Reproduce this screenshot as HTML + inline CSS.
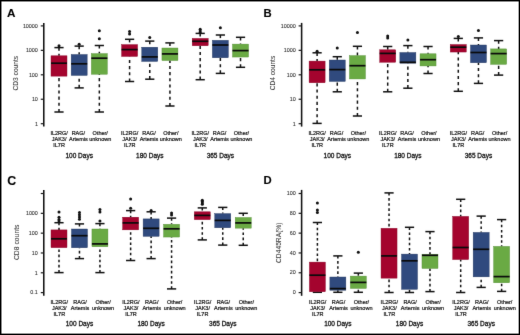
<!DOCTYPE html>
<html><head><meta charset="utf-8"><style>
html,body{margin:0;padding:0;background:#fff;}
body{width:520px;height:335px;overflow:hidden;}
svg{display:block;font-family:"Liberation Sans", sans-serif;filter:blur(0.35px);}
</style></head><body>
<svg width="520" height="335" viewBox="0 0 520 335">
<defs><filter id="soft" x="0" y="0" width="100%" height="100%" filterUnits="userSpaceOnUse" color-interpolation-filters="sRGB"><feConvolveMatrix order="3" kernelMatrix="0.0052 0.0619 0.0052 0.0619 0.7314 0.0619 0.0052 0.0619 0.0052" edgeMode="duplicate" preserveAlpha="true"/></filter></defs>
<g filter="url(#soft)">
<rect x="0" y="0" width="520" height="335" fill="#fff"/>
<text x="7.10" y="16.95" font-size="11.7" text-anchor="start" font-weight="bold" fill="#000" stroke="#000" stroke-width="0.1">A</text>
<line x1="43.78" y1="22.9" x2="43.78" y2="126.6" stroke="#111" stroke-width="1.55"/>
<line x1="40.78" y1="123.7" x2="43.78" y2="123.7" stroke="#1a1a1a" stroke-width="1.2"/>
<text x="37.88" y="125.64" font-size="5.4" text-anchor="end" font-weight="normal" fill="#262626" stroke="#262626" stroke-width="0.06" transform="translate(0 0.000) scale(1 1.0)">1</text>
<line x1="40.78" y1="99.25" x2="43.78" y2="99.25" stroke="#1a1a1a" stroke-width="1.2"/>
<text x="37.88" y="101.19" font-size="5.4" text-anchor="end" font-weight="normal" fill="#262626" stroke="#262626" stroke-width="0.06" transform="translate(0 0.000) scale(1 1.0)">10</text>
<line x1="40.78" y1="74.8" x2="43.78" y2="74.8" stroke="#1a1a1a" stroke-width="1.2"/>
<text x="37.88" y="76.74" font-size="5.4" text-anchor="end" font-weight="normal" fill="#262626" stroke="#262626" stroke-width="0.06" transform="translate(0 0.000) scale(1 1.0)">100</text>
<line x1="40.78" y1="50.35" x2="43.78" y2="50.35" stroke="#1a1a1a" stroke-width="1.2"/>
<text x="37.88" y="52.29" font-size="5.4" text-anchor="end" font-weight="normal" fill="#262626" stroke="#262626" stroke-width="0.06" transform="translate(0 0.000) scale(1 1.0)">1000</text>
<line x1="40.78" y1="25.9" x2="43.78" y2="25.9" stroke="#1a1a1a" stroke-width="1.2"/>
<text x="37.88" y="27.84" font-size="5.4" text-anchor="end" font-weight="normal" fill="#262626" stroke="#262626" stroke-width="0.06" transform="translate(0 0.000) scale(1 1.0)">10000</text>
<text x="17.90" y="73.20" font-size="6.6" text-anchor="middle" font-weight="normal" fill="#333" stroke="#333" stroke-width="0.05" transform="rotate(-90 17.9 73.2)">CD3 counts</text>
<line x1="59.00" y1="47.6" x2="59.00" y2="55.8" stroke="#111" stroke-width="1.5" stroke-dasharray="3.1 3.06"/>
<line x1="59.00" y1="112.0" x2="59.00" y2="76.15" stroke="#111" stroke-width="1.5" stroke-dasharray="3.1 3.06"/>
<line x1="54.40" y1="47.6" x2="63.60" y2="47.6" stroke="#111" stroke-width="1.5"/>
<line x1="54.40" y1="112.0" x2="63.60" y2="112.0" stroke="#111" stroke-width="1.5"/>
<rect x="51.00" y="55.8" width="16.0" height="20.35" fill="#a4042e" stroke="#860224" stroke-width="0.4"/>
<line x1="51.00" y1="63.199999999999996" x2="67.00" y2="63.199999999999996" stroke="#0a0a0a" stroke-width="1.7"/>
<circle cx="59.00" cy="45.7" r="1.5" fill="#111"/>
<line x1="79.17" y1="46.1" x2="79.17" y2="54.5" stroke="#111" stroke-width="1.5" stroke-dasharray="3.1 3.06"/>
<line x1="79.17" y1="87.9" x2="79.17" y2="75.45" stroke="#111" stroke-width="1.5" stroke-dasharray="3.1 3.06"/>
<line x1="74.57" y1="46.1" x2="83.77" y2="46.1" stroke="#111" stroke-width="1.5"/>
<line x1="74.57" y1="87.9" x2="83.77" y2="87.9" stroke="#111" stroke-width="1.5"/>
<rect x="71.17" y="54.5" width="16.0" height="20.95" fill="#304a7e" stroke="#24385f" stroke-width="0.4"/>
<line x1="71.17" y1="63.8" x2="87.17" y2="63.8" stroke="#0a0a0a" stroke-width="1.7"/>
<circle cx="79.17" cy="44.3" r="1.5" fill="#111"/>
<line x1="99.34" y1="45.5" x2="99.34" y2="53.599999999999994" stroke="#111" stroke-width="1.5" stroke-dasharray="3.1 3.06"/>
<line x1="99.34" y1="112.0" x2="99.34" y2="74.25" stroke="#111" stroke-width="1.5" stroke-dasharray="3.1 3.06"/>
<line x1="94.74" y1="45.5" x2="103.94" y2="45.5" stroke="#111" stroke-width="1.5"/>
<line x1="94.74" y1="112.0" x2="103.94" y2="112.0" stroke="#111" stroke-width="1.5"/>
<rect x="91.34" y="53.599999999999994" width="16.0" height="20.65" fill="#6aaa44" stroke="#4f8a30" stroke-width="0.4"/>
<line x1="91.34" y1="58.199999999999996" x2="107.34" y2="58.199999999999996" stroke="#0a0a0a" stroke-width="1.7"/>
<circle cx="99.34" cy="38.7" r="1.5" fill="#111"/>
<circle cx="99.34" cy="30.7" r="1.5" fill="#111"/>
<line x1="129.59" y1="39.3" x2="129.59" y2="44.599999999999994" stroke="#111" stroke-width="1.5" stroke-dasharray="3.1 3.06"/>
<line x1="129.59" y1="81.5" x2="129.59" y2="56.449999999999996" stroke="#111" stroke-width="1.5" stroke-dasharray="3.1 3.06"/>
<line x1="125.00" y1="39.3" x2="134.19" y2="39.3" stroke="#111" stroke-width="1.5"/>
<line x1="125.00" y1="81.5" x2="134.19" y2="81.5" stroke="#111" stroke-width="1.5"/>
<rect x="121.59" y="44.599999999999994" width="16.0" height="11.85" fill="#a4042e" stroke="#860224" stroke-width="0.4"/>
<line x1="121.59" y1="49.599999999999994" x2="137.59" y2="49.599999999999994" stroke="#0a0a0a" stroke-width="1.7"/>
<circle cx="129.59" cy="34.0" r="1.5" fill="#111"/>
<circle cx="129.59" cy="31.6" r="1.5" fill="#111"/>
<line x1="149.77" y1="41.1" x2="149.77" y2="47.199999999999996" stroke="#111" stroke-width="1.5" stroke-dasharray="3.1 3.06"/>
<line x1="149.77" y1="79.2" x2="149.77" y2="61.449999999999996" stroke="#111" stroke-width="1.5" stroke-dasharray="3.1 3.06"/>
<line x1="145.17" y1="41.1" x2="154.37" y2="41.1" stroke="#111" stroke-width="1.5"/>
<line x1="145.17" y1="79.2" x2="154.37" y2="79.2" stroke="#111" stroke-width="1.5"/>
<rect x="141.77" y="47.199999999999996" width="16.0" height="14.25" fill="#304a7e" stroke="#24385f" stroke-width="0.4"/>
<line x1="141.77" y1="56.9" x2="157.77" y2="56.9" stroke="#0a0a0a" stroke-width="1.7"/>
<circle cx="149.77" cy="37.5" r="1.5" fill="#111"/>
<line x1="169.94" y1="42.9" x2="169.94" y2="48.0" stroke="#111" stroke-width="1.5" stroke-dasharray="3.1 3.06"/>
<line x1="169.94" y1="106.0" x2="169.94" y2="60.55" stroke="#111" stroke-width="1.5" stroke-dasharray="3.1 3.06"/>
<line x1="165.34" y1="42.9" x2="174.53" y2="42.9" stroke="#111" stroke-width="1.5"/>
<line x1="165.34" y1="106.0" x2="174.53" y2="106.0" stroke="#111" stroke-width="1.5"/>
<rect x="161.94" y="48.0" width="16.0" height="12.55" fill="#6aaa44" stroke="#4f8a30" stroke-width="0.4"/>
<line x1="161.94" y1="53.9" x2="177.94" y2="53.9" stroke="#0a0a0a" stroke-width="1.7"/>
<line x1="200.19" y1="33.4" x2="200.19" y2="38.4" stroke="#111" stroke-width="1.5" stroke-dasharray="3.1 3.06"/>
<line x1="200.19" y1="79.7" x2="200.19" y2="45.75" stroke="#111" stroke-width="1.5" stroke-dasharray="3.1 3.06"/>
<line x1="195.59" y1="33.4" x2="204.79" y2="33.4" stroke="#111" stroke-width="1.5"/>
<line x1="195.59" y1="79.7" x2="204.79" y2="79.7" stroke="#111" stroke-width="1.5"/>
<rect x="192.19" y="38.4" width="16.0" height="7.35" fill="#a4042e" stroke="#860224" stroke-width="0.4"/>
<line x1="192.19" y1="41.3" x2="208.19" y2="41.3" stroke="#0a0a0a" stroke-width="1.7"/>
<circle cx="200.19" cy="29.3" r="1.5" fill="#111"/>
<circle cx="200.19" cy="31.0" r="1.5" fill="#111"/>
<circle cx="200.19" cy="32.6" r="1.5" fill="#111"/>
<line x1="220.36" y1="35.0" x2="220.36" y2="40.3" stroke="#111" stroke-width="1.5" stroke-dasharray="3.1 3.06"/>
<line x1="220.36" y1="73.4" x2="220.36" y2="57.75" stroke="#111" stroke-width="1.5" stroke-dasharray="3.1 3.06"/>
<line x1="215.76" y1="35.0" x2="224.96" y2="35.0" stroke="#111" stroke-width="1.5"/>
<line x1="215.76" y1="73.4" x2="224.96" y2="73.4" stroke="#111" stroke-width="1.5"/>
<rect x="212.36" y="40.3" width="16.0" height="17.45" fill="#304a7e" stroke="#24385f" stroke-width="0.4"/>
<line x1="212.36" y1="45.0" x2="228.36" y2="45.0" stroke="#0a0a0a" stroke-width="1.7"/>
<circle cx="220.36" cy="27.8" r="1.5" fill="#111"/>
<line x1="240.53" y1="37.3" x2="240.53" y2="44.099999999999994" stroke="#111" stroke-width="1.5" stroke-dasharray="3.1 3.06"/>
<line x1="240.53" y1="67.3" x2="240.53" y2="57.05" stroke="#111" stroke-width="1.5" stroke-dasharray="3.1 3.06"/>
<line x1="235.93" y1="37.3" x2="245.13" y2="37.3" stroke="#111" stroke-width="1.5"/>
<line x1="235.93" y1="67.3" x2="245.13" y2="67.3" stroke="#111" stroke-width="1.5"/>
<rect x="232.53" y="44.099999999999994" width="16.0" height="12.95" fill="#6aaa44" stroke="#4f8a30" stroke-width="0.4"/>
<line x1="232.53" y1="50.599999999999994" x2="248.53" y2="50.599999999999994" stroke="#0a0a0a" stroke-width="1.7"/>
<text x="59.10" y="134.58" font-size="5.5" text-anchor="middle" font-weight="normal" fill="#111" stroke="#111" stroke-width="0.2">IL2RG/</text>
<text x="59.10" y="141.08" font-size="5.5" text-anchor="middle" font-weight="normal" fill="#111" stroke="#111" stroke-width="0.2">JAK3/</text>
<text x="59.10" y="147.48" font-size="5.5" text-anchor="middle" font-weight="normal" fill="#111" stroke="#111" stroke-width="0.2">IL7R</text>
<text x="78.37" y="134.58" font-size="5.5" text-anchor="middle" font-weight="normal" fill="#111" stroke="#111" stroke-width="0.2">RAG/</text>
<text x="78.37" y="141.08" font-size="5.5" text-anchor="middle" font-weight="normal" fill="#111" stroke="#111" stroke-width="0.2">Artemis</text>
<text x="100.24" y="134.58" font-size="5.5" text-anchor="middle" font-weight="normal" fill="#111" stroke="#111" stroke-width="0.2">Other/</text>
<text x="100.24" y="141.08" font-size="5.5" text-anchor="middle" font-weight="normal" fill="#111" stroke="#111" stroke-width="0.2">unknown</text>
<text x="129.69" y="134.58" font-size="5.5" text-anchor="middle" font-weight="normal" fill="#111" stroke="#111" stroke-width="0.2">IL2RG/</text>
<text x="129.69" y="141.08" font-size="5.5" text-anchor="middle" font-weight="normal" fill="#111" stroke="#111" stroke-width="0.2">JAK3/</text>
<text x="129.69" y="147.48" font-size="5.5" text-anchor="middle" font-weight="normal" fill="#111" stroke="#111" stroke-width="0.2">IL7R</text>
<text x="148.97" y="134.58" font-size="5.5" text-anchor="middle" font-weight="normal" fill="#111" stroke="#111" stroke-width="0.2">RAG/</text>
<text x="148.97" y="141.08" font-size="5.5" text-anchor="middle" font-weight="normal" fill="#111" stroke="#111" stroke-width="0.2">Artemis</text>
<text x="170.84" y="134.58" font-size="5.5" text-anchor="middle" font-weight="normal" fill="#111" stroke="#111" stroke-width="0.2">Other/</text>
<text x="170.84" y="141.08" font-size="5.5" text-anchor="middle" font-weight="normal" fill="#111" stroke="#111" stroke-width="0.2">unknown</text>
<text x="200.29" y="134.58" font-size="5.5" text-anchor="middle" font-weight="normal" fill="#111" stroke="#111" stroke-width="0.2">IL2RG/</text>
<text x="200.29" y="141.08" font-size="5.5" text-anchor="middle" font-weight="normal" fill="#111" stroke="#111" stroke-width="0.2">JAK3/</text>
<text x="200.29" y="147.48" font-size="5.5" text-anchor="middle" font-weight="normal" fill="#111" stroke="#111" stroke-width="0.2">IL7R</text>
<text x="219.56" y="134.58" font-size="5.5" text-anchor="middle" font-weight="normal" fill="#111" stroke="#111" stroke-width="0.2">RAG/</text>
<text x="219.56" y="141.08" font-size="5.5" text-anchor="middle" font-weight="normal" fill="#111" stroke="#111" stroke-width="0.2">Artemis</text>
<text x="241.43" y="134.58" font-size="5.5" text-anchor="middle" font-weight="normal" fill="#111" stroke="#111" stroke-width="0.2">Other/</text>
<text x="241.43" y="141.08" font-size="5.5" text-anchor="middle" font-weight="normal" fill="#111" stroke="#111" stroke-width="0.2">unknown</text>
<text x="79.17" y="157.54" font-size="6.5" text-anchor="middle" font-weight="normal" fill="#111" stroke="#111" stroke-width="0.28">100 Days</text>
<text x="149.77" y="157.54" font-size="6.5" text-anchor="middle" font-weight="normal" fill="#111" stroke="#111" stroke-width="0.28">180 Days</text>
<text x="220.36" y="157.54" font-size="6.5" text-anchor="middle" font-weight="normal" fill="#111" stroke="#111" stroke-width="0.28">365 Days</text>
<text x="263.60" y="17.00" font-size="11.3" text-anchor="start" font-weight="bold" fill="#000" stroke="#000" stroke-width="0.1">B</text>
<line x1="301.62" y1="22.9" x2="301.62" y2="126.6" stroke="#111" stroke-width="1.55"/>
<line x1="298.62" y1="123.7" x2="301.62" y2="123.7" stroke="#1a1a1a" stroke-width="1.2"/>
<text x="295.72" y="125.64" font-size="5.4" text-anchor="end" font-weight="normal" fill="#262626" stroke="#262626" stroke-width="0.06" transform="translate(0 0.000) scale(1 1.0)">1</text>
<line x1="298.62" y1="99.25" x2="301.62" y2="99.25" stroke="#1a1a1a" stroke-width="1.2"/>
<text x="295.72" y="101.19" font-size="5.4" text-anchor="end" font-weight="normal" fill="#262626" stroke="#262626" stroke-width="0.06" transform="translate(0 0.000) scale(1 1.0)">10</text>
<line x1="298.62" y1="74.8" x2="301.62" y2="74.8" stroke="#1a1a1a" stroke-width="1.2"/>
<text x="295.72" y="76.74" font-size="5.4" text-anchor="end" font-weight="normal" fill="#262626" stroke="#262626" stroke-width="0.06" transform="translate(0 0.000) scale(1 1.0)">100</text>
<line x1="298.62" y1="50.35" x2="301.62" y2="50.35" stroke="#1a1a1a" stroke-width="1.2"/>
<text x="295.72" y="52.29" font-size="5.4" text-anchor="end" font-weight="normal" fill="#262626" stroke="#262626" stroke-width="0.06" transform="translate(0 0.000) scale(1 1.0)">1000</text>
<line x1="298.62" y1="25.9" x2="301.62" y2="25.9" stroke="#1a1a1a" stroke-width="1.2"/>
<text x="295.72" y="27.84" font-size="5.4" text-anchor="end" font-weight="normal" fill="#262626" stroke="#262626" stroke-width="0.06" transform="translate(0 0.000) scale(1 1.0)">10000</text>
<text x="274.60" y="73.00" font-size="6.6" text-anchor="middle" font-weight="normal" fill="#333" stroke="#333" stroke-width="0.05" transform="rotate(-90 274.6 73.0)">CD4 counts</text>
<line x1="317.10" y1="52.8" x2="317.10" y2="61.099999999999994" stroke="#111" stroke-width="1.5" stroke-dasharray="3.1 3.06"/>
<line x1="317.10" y1="123.4" x2="317.10" y2="82.75" stroke="#111" stroke-width="1.5" stroke-dasharray="3.1 3.06"/>
<line x1="312.50" y1="52.8" x2="321.70" y2="52.8" stroke="#111" stroke-width="1.5"/>
<line x1="312.50" y1="123.4" x2="321.70" y2="123.4" stroke="#111" stroke-width="1.5"/>
<rect x="309.10" y="61.099999999999994" width="16.0" height="21.65" fill="#a4042e" stroke="#860224" stroke-width="0.4"/>
<line x1="309.10" y1="69.8" x2="325.10" y2="69.8" stroke="#0a0a0a" stroke-width="1.7"/>
<circle cx="317.10" cy="51.3" r="1.5" fill="#111"/>
<line x1="337.27" y1="56.7" x2="337.27" y2="60.0" stroke="#111" stroke-width="1.5" stroke-dasharray="3.1 3.06"/>
<line x1="337.27" y1="91.8" x2="337.27" y2="81.45" stroke="#111" stroke-width="1.5" stroke-dasharray="3.1 3.06"/>
<line x1="332.67" y1="56.7" x2="341.87" y2="56.7" stroke="#111" stroke-width="1.5"/>
<line x1="332.67" y1="91.8" x2="341.87" y2="91.8" stroke="#111" stroke-width="1.5"/>
<rect x="329.27" y="60.0" width="16.0" height="21.45" fill="#304a7e" stroke="#24385f" stroke-width="0.4"/>
<line x1="329.27" y1="69.6" x2="345.27" y2="69.6" stroke="#0a0a0a" stroke-width="1.7"/>
<circle cx="337.27" cy="48.1" r="1.5" fill="#111"/>
<line x1="357.44" y1="46.3" x2="357.44" y2="55.599999999999994" stroke="#111" stroke-width="1.5" stroke-dasharray="3.1 3.06"/>
<line x1="357.44" y1="116.0" x2="357.44" y2="78.95" stroke="#111" stroke-width="1.5" stroke-dasharray="3.1 3.06"/>
<line x1="352.84" y1="46.3" x2="362.04" y2="46.3" stroke="#111" stroke-width="1.5"/>
<line x1="352.84" y1="116.0" x2="362.04" y2="116.0" stroke="#111" stroke-width="1.5"/>
<rect x="349.44" y="55.599999999999994" width="16.0" height="23.35" fill="#6aaa44" stroke="#4f8a30" stroke-width="0.4"/>
<line x1="349.44" y1="65.7" x2="365.44" y2="65.7" stroke="#0a0a0a" stroke-width="1.7"/>
<circle cx="357.44" cy="32.6" r="1.5" fill="#111"/>
<line x1="387.70" y1="46.5" x2="387.70" y2="49.8" stroke="#111" stroke-width="1.5" stroke-dasharray="3.1 3.06"/>
<line x1="387.70" y1="91.8" x2="387.70" y2="62.25" stroke="#111" stroke-width="1.5" stroke-dasharray="3.1 3.06"/>
<line x1="383.10" y1="46.5" x2="392.30" y2="46.5" stroke="#111" stroke-width="1.5"/>
<line x1="383.10" y1="91.8" x2="392.30" y2="91.8" stroke="#111" stroke-width="1.5"/>
<rect x="379.70" y="49.8" width="16.0" height="12.45" fill="#a4042e" stroke="#860224" stroke-width="0.4"/>
<line x1="379.70" y1="53.4" x2="395.70" y2="53.4" stroke="#0a0a0a" stroke-width="1.7"/>
<circle cx="387.70" cy="36.1" r="1.5" fill="#111"/>
<circle cx="387.70" cy="37.9" r="1.5" fill="#111"/>
<line x1="407.87" y1="45.6" x2="407.87" y2="52.5" stroke="#111" stroke-width="1.5" stroke-dasharray="3.1 3.06"/>
<line x1="407.87" y1="88.2" x2="407.87" y2="63.15" stroke="#111" stroke-width="1.5" stroke-dasharray="3.1 3.06"/>
<line x1="403.26" y1="45.6" x2="412.47" y2="45.6" stroke="#111" stroke-width="1.5"/>
<line x1="403.26" y1="88.2" x2="412.47" y2="88.2" stroke="#111" stroke-width="1.5"/>
<rect x="399.87" y="52.5" width="16.0" height="10.65" fill="#304a7e" stroke="#24385f" stroke-width="0.4"/>
<line x1="399.87" y1="62.3" x2="415.87" y2="62.3" stroke="#0a0a0a" stroke-width="1.7"/>
<circle cx="407.87" cy="40.0" r="1.5" fill="#111"/>
<line x1="428.04" y1="46.5" x2="428.04" y2="53.8" stroke="#111" stroke-width="1.5" stroke-dasharray="3.1 3.06"/>
<line x1="428.04" y1="73.5" x2="428.04" y2="65.95" stroke="#111" stroke-width="1.5" stroke-dasharray="3.1 3.06"/>
<line x1="423.44" y1="46.5" x2="432.64" y2="46.5" stroke="#111" stroke-width="1.5"/>
<line x1="423.44" y1="73.5" x2="432.64" y2="73.5" stroke="#111" stroke-width="1.5"/>
<rect x="420.04" y="53.8" width="16.0" height="12.15" fill="#6aaa44" stroke="#4f8a30" stroke-width="0.4"/>
<line x1="420.04" y1="59.699999999999996" x2="436.04" y2="59.699999999999996" stroke="#0a0a0a" stroke-width="1.7"/>
<line x1="458.29" y1="38.4" x2="458.29" y2="44.5" stroke="#111" stroke-width="1.5" stroke-dasharray="3.1 3.06"/>
<line x1="458.29" y1="91.3" x2="458.29" y2="52.05" stroke="#111" stroke-width="1.5" stroke-dasharray="3.1 3.06"/>
<line x1="453.69" y1="38.4" x2="462.89" y2="38.4" stroke="#111" stroke-width="1.5"/>
<line x1="453.69" y1="91.3" x2="462.89" y2="91.3" stroke="#111" stroke-width="1.5"/>
<rect x="450.29" y="44.5" width="16.0" height="7.55" fill="#a4042e" stroke="#860224" stroke-width="0.4"/>
<line x1="450.29" y1="47.199999999999996" x2="466.29" y2="47.199999999999996" stroke="#0a0a0a" stroke-width="1.7"/>
<circle cx="458.29" cy="36.6" r="1.5" fill="#111"/>
<line x1="478.46" y1="37.9" x2="478.46" y2="45.0" stroke="#111" stroke-width="1.5" stroke-dasharray="3.1 3.06"/>
<line x1="478.46" y1="83.4" x2="478.46" y2="62.75" stroke="#111" stroke-width="1.5" stroke-dasharray="3.1 3.06"/>
<line x1="473.86" y1="37.9" x2="483.06" y2="37.9" stroke="#111" stroke-width="1.5"/>
<line x1="473.86" y1="83.4" x2="483.06" y2="83.4" stroke="#111" stroke-width="1.5"/>
<rect x="470.46" y="45.0" width="16.0" height="17.75" fill="#304a7e" stroke="#24385f" stroke-width="0.4"/>
<line x1="470.46" y1="52.5" x2="486.46" y2="52.5" stroke="#0a0a0a" stroke-width="1.7"/>
<circle cx="478.46" cy="30.4" r="1.5" fill="#111"/>
<line x1="498.63" y1="40.6" x2="498.63" y2="48.9" stroke="#111" stroke-width="1.5" stroke-dasharray="3.1 3.06"/>
<line x1="498.63" y1="75.1" x2="498.63" y2="64.35000000000001" stroke="#111" stroke-width="1.5" stroke-dasharray="3.1 3.06"/>
<line x1="494.03" y1="40.6" x2="503.23" y2="40.6" stroke="#111" stroke-width="1.5"/>
<line x1="494.03" y1="75.1" x2="503.23" y2="75.1" stroke="#111" stroke-width="1.5"/>
<rect x="490.63" y="48.9" width="16.0" height="15.45" fill="#6aaa44" stroke="#4f8a30" stroke-width="0.4"/>
<line x1="490.63" y1="53.599999999999994" x2="506.63" y2="53.599999999999994" stroke="#0a0a0a" stroke-width="1.7"/>
<text x="317.20" y="134.58" font-size="5.5" text-anchor="middle" font-weight="normal" fill="#111" stroke="#111" stroke-width="0.2">IL2RG/</text>
<text x="317.20" y="141.08" font-size="5.5" text-anchor="middle" font-weight="normal" fill="#111" stroke="#111" stroke-width="0.2">JAK3/</text>
<text x="317.20" y="147.48" font-size="5.5" text-anchor="middle" font-weight="normal" fill="#111" stroke="#111" stroke-width="0.2">IL7R</text>
<text x="336.47" y="134.58" font-size="5.5" text-anchor="middle" font-weight="normal" fill="#111" stroke="#111" stroke-width="0.2">RAG/</text>
<text x="336.47" y="141.08" font-size="5.5" text-anchor="middle" font-weight="normal" fill="#111" stroke="#111" stroke-width="0.2">Artemis</text>
<text x="358.34" y="134.58" font-size="5.5" text-anchor="middle" font-weight="normal" fill="#111" stroke="#111" stroke-width="0.2">Other/</text>
<text x="358.34" y="141.08" font-size="5.5" text-anchor="middle" font-weight="normal" fill="#111" stroke="#111" stroke-width="0.2">unknown</text>
<text x="387.80" y="134.58" font-size="5.5" text-anchor="middle" font-weight="normal" fill="#111" stroke="#111" stroke-width="0.2">IL2RG/</text>
<text x="387.80" y="141.08" font-size="5.5" text-anchor="middle" font-weight="normal" fill="#111" stroke="#111" stroke-width="0.2">JAK3/</text>
<text x="387.80" y="147.48" font-size="5.5" text-anchor="middle" font-weight="normal" fill="#111" stroke="#111" stroke-width="0.2">IL7R</text>
<text x="407.06" y="134.58" font-size="5.5" text-anchor="middle" font-weight="normal" fill="#111" stroke="#111" stroke-width="0.2">RAG/</text>
<text x="407.06" y="141.08" font-size="5.5" text-anchor="middle" font-weight="normal" fill="#111" stroke="#111" stroke-width="0.2">Artemis</text>
<text x="428.94" y="134.58" font-size="5.5" text-anchor="middle" font-weight="normal" fill="#111" stroke="#111" stroke-width="0.2">Other/</text>
<text x="428.94" y="141.08" font-size="5.5" text-anchor="middle" font-weight="normal" fill="#111" stroke="#111" stroke-width="0.2">unknown</text>
<text x="458.39" y="134.58" font-size="5.5" text-anchor="middle" font-weight="normal" fill="#111" stroke="#111" stroke-width="0.2">IL2RG/</text>
<text x="458.39" y="141.08" font-size="5.5" text-anchor="middle" font-weight="normal" fill="#111" stroke="#111" stroke-width="0.2">JAK3/</text>
<text x="458.39" y="147.48" font-size="5.5" text-anchor="middle" font-weight="normal" fill="#111" stroke="#111" stroke-width="0.2">IL7R</text>
<text x="477.66" y="134.58" font-size="5.5" text-anchor="middle" font-weight="normal" fill="#111" stroke="#111" stroke-width="0.2">RAG/</text>
<text x="477.66" y="141.08" font-size="5.5" text-anchor="middle" font-weight="normal" fill="#111" stroke="#111" stroke-width="0.2">Artemis</text>
<text x="499.53" y="134.58" font-size="5.5" text-anchor="middle" font-weight="normal" fill="#111" stroke="#111" stroke-width="0.2">Other/</text>
<text x="499.53" y="141.08" font-size="5.5" text-anchor="middle" font-weight="normal" fill="#111" stroke="#111" stroke-width="0.2">unknown</text>
<text x="337.27" y="157.54" font-size="6.5" text-anchor="middle" font-weight="normal" fill="#111" stroke="#111" stroke-width="0.28">100 Days</text>
<text x="407.87" y="157.54" font-size="6.5" text-anchor="middle" font-weight="normal" fill="#111" stroke="#111" stroke-width="0.28">180 Days</text>
<text x="478.46" y="157.54" font-size="6.5" text-anchor="middle" font-weight="normal" fill="#111" stroke="#111" stroke-width="0.28">365 Days</text>
<text x="7.30" y="184.70" font-size="12.4" text-anchor="start" font-weight="bold" fill="#000" stroke="#000" stroke-width="0.1">C</text>
<line x1="43.78" y1="189.9" x2="43.78" y2="295.8" stroke="#111" stroke-width="1.55"/>
<line x1="40.78" y1="292.62" x2="43.78" y2="292.62" stroke="#1a1a1a" stroke-width="1.2"/>
<text x="37.88" y="294.33" font-size="5.4" text-anchor="end" font-weight="normal" fill="#262626" stroke="#262626" stroke-width="0.06" transform="translate(0 35.320) scale(1 0.88)">0.1</text>
<line x1="40.78" y1="272.8" x2="43.78" y2="272.8" stroke="#1a1a1a" stroke-width="1.2"/>
<text x="37.88" y="274.51" font-size="5.4" text-anchor="end" font-weight="normal" fill="#262626" stroke="#262626" stroke-width="0.06" transform="translate(0 32.941) scale(1 0.88)">1</text>
<line x1="40.78" y1="252.98" x2="43.78" y2="252.98" stroke="#1a1a1a" stroke-width="1.2"/>
<text x="37.88" y="254.69" font-size="5.4" text-anchor="end" font-weight="normal" fill="#262626" stroke="#262626" stroke-width="0.06" transform="translate(0 30.563) scale(1 0.88)">10</text>
<line x1="40.78" y1="233.16" x2="43.78" y2="233.16" stroke="#1a1a1a" stroke-width="1.2"/>
<text x="37.88" y="234.87" font-size="5.4" text-anchor="end" font-weight="normal" fill="#262626" stroke="#262626" stroke-width="0.06" transform="translate(0 28.184) scale(1 0.88)">100</text>
<line x1="40.78" y1="213.34" x2="43.78" y2="213.34" stroke="#1a1a1a" stroke-width="1.2"/>
<text x="37.88" y="215.05" font-size="5.4" text-anchor="end" font-weight="normal" fill="#262626" stroke="#262626" stroke-width="0.06" transform="translate(0 25.806) scale(1 0.88)">1000</text>
<line x1="40.78" y1="193.52" x2="43.78" y2="193.52" stroke="#1a1a1a" stroke-width="1.2"/>
<text x="18.90" y="242.30" font-size="6.8" text-anchor="middle" font-weight="normal" fill="#333" stroke="#333" stroke-width="0.05" transform="rotate(-90 18.9 242.3)">CD8 counts</text>
<line x1="59.00" y1="222.7" x2="59.00" y2="229.9" stroke="#111" stroke-width="1.5" stroke-dasharray="2.6 2.55"/>
<line x1="59.00" y1="272.6" x2="59.00" y2="247.65" stroke="#111" stroke-width="1.5" stroke-dasharray="2.6 2.55"/>
<line x1="54.40" y1="222.7" x2="63.60" y2="222.7" stroke="#111" stroke-width="1.5"/>
<line x1="54.40" y1="272.6" x2="63.60" y2="272.6" stroke="#111" stroke-width="1.5"/>
<rect x="51.00" y="229.9" width="16.0" height="17.75" fill="#a4042e" stroke="#860224" stroke-width="0.4"/>
<line x1="51.00" y1="238.8" x2="67.00" y2="238.8" stroke="#0a0a0a" stroke-width="1.7"/>
<circle cx="59.00" cy="211.9" r="1.5" fill="#111"/>
<circle cx="59.00" cy="217.2" r="1.5" fill="#111"/>
<circle cx="59.00" cy="219.4" r="1.5" fill="#111"/>
<circle cx="59.00" cy="220.9" r="1.5" fill="#111"/>
<line x1="79.47" y1="223.9" x2="79.47" y2="229.0" stroke="#111" stroke-width="1.5" stroke-dasharray="2.6 2.55"/>
<line x1="79.47" y1="258.6" x2="79.47" y2="247.75" stroke="#111" stroke-width="1.5" stroke-dasharray="2.6 2.55"/>
<line x1="74.87" y1="223.9" x2="84.07" y2="223.9" stroke="#111" stroke-width="1.5"/>
<line x1="74.87" y1="258.6" x2="84.07" y2="258.6" stroke="#111" stroke-width="1.5"/>
<rect x="71.47" y="229.0" width="16.0" height="18.75" fill="#304a7e" stroke="#24385f" stroke-width="0.4"/>
<line x1="71.47" y1="235.70000000000002" x2="87.47" y2="235.70000000000002" stroke="#0a0a0a" stroke-width="1.7"/>
<circle cx="79.47" cy="212.6" r="1.5" fill="#111"/>
<circle cx="79.47" cy="214.8" r="1.5" fill="#111"/>
<circle cx="79.47" cy="217.0" r="1.5" fill="#111"/>
<circle cx="79.47" cy="219.3" r="1.5" fill="#111"/>
<line x1="99.94" y1="223.6" x2="99.94" y2="229.0" stroke="#111" stroke-width="1.5" stroke-dasharray="2.6 2.55"/>
<line x1="99.94" y1="272.6" x2="99.94" y2="246.75" stroke="#111" stroke-width="1.5" stroke-dasharray="2.6 2.55"/>
<line x1="95.34" y1="223.6" x2="104.54" y2="223.6" stroke="#111" stroke-width="1.5"/>
<line x1="95.34" y1="272.6" x2="104.54" y2="272.6" stroke="#111" stroke-width="1.5"/>
<rect x="91.94" y="229.0" width="16.0" height="17.75" fill="#6aaa44" stroke="#4f8a30" stroke-width="0.4"/>
<line x1="91.94" y1="243.9" x2="107.94" y2="243.9" stroke="#0a0a0a" stroke-width="1.7"/>
<circle cx="99.94" cy="209.6" r="1.5" fill="#111"/>
<circle cx="99.94" cy="212.0" r="1.5" fill="#111"/>
<circle cx="99.94" cy="221.0" r="1.5" fill="#111"/>
<line x1="130.64" y1="210.6" x2="130.64" y2="217.20000000000002" stroke="#111" stroke-width="1.5" stroke-dasharray="2.6 2.55"/>
<line x1="130.64" y1="260.5" x2="130.64" y2="229.85" stroke="#111" stroke-width="1.5" stroke-dasharray="2.6 2.55"/>
<line x1="126.04" y1="210.6" x2="135.24" y2="210.6" stroke="#111" stroke-width="1.5"/>
<line x1="126.04" y1="260.5" x2="135.24" y2="260.5" stroke="#111" stroke-width="1.5"/>
<rect x="122.64" y="217.20000000000002" width="16.0" height="12.65" fill="#a4042e" stroke="#860224" stroke-width="0.4"/>
<line x1="122.64" y1="222.9" x2="138.64" y2="222.9" stroke="#0a0a0a" stroke-width="1.7"/>
<circle cx="130.64" cy="199.0" r="1.5" fill="#111"/>
<circle cx="130.64" cy="208.3" r="1.5" fill="#111"/>
<line x1="151.12" y1="211.8" x2="151.12" y2="218.9" stroke="#111" stroke-width="1.5" stroke-dasharray="2.6 2.55"/>
<line x1="151.12" y1="258.6" x2="151.12" y2="236.35" stroke="#111" stroke-width="1.5" stroke-dasharray="2.6 2.55"/>
<line x1="146.52" y1="211.8" x2="155.72" y2="211.8" stroke="#111" stroke-width="1.5"/>
<line x1="146.52" y1="258.6" x2="155.72" y2="258.6" stroke="#111" stroke-width="1.5"/>
<rect x="143.12" y="218.9" width="16.0" height="17.45" fill="#304a7e" stroke="#24385f" stroke-width="0.4"/>
<line x1="143.12" y1="228.3" x2="159.12" y2="228.3" stroke="#0a0a0a" stroke-width="1.7"/>
<circle cx="151.12" cy="210.6" r="1.5" fill="#111"/>
<line x1="171.58" y1="218.1" x2="171.58" y2="224.3" stroke="#111" stroke-width="1.5" stroke-dasharray="2.6 2.55"/>
<line x1="171.58" y1="288.9" x2="171.58" y2="237.05" stroke="#111" stroke-width="1.5" stroke-dasharray="2.6 2.55"/>
<line x1="166.98" y1="218.1" x2="176.18" y2="218.1" stroke="#111" stroke-width="1.5"/>
<line x1="166.98" y1="288.9" x2="176.18" y2="288.9" stroke="#111" stroke-width="1.5"/>
<rect x="163.58" y="224.3" width="16.0" height="12.75" fill="#6aaa44" stroke="#4f8a30" stroke-width="0.4"/>
<line x1="163.58" y1="228.8" x2="179.58" y2="228.8" stroke="#0a0a0a" stroke-width="1.7"/>
<circle cx="171.58" cy="213.0" r="1.5" fill="#111"/>
<circle cx="171.58" cy="215.0" r="1.5" fill="#111"/>
<line x1="202.29" y1="207.9" x2="202.29" y2="211.8" stroke="#111" stroke-width="1.5" stroke-dasharray="2.6 2.55"/>
<line x1="202.29" y1="239.9" x2="202.29" y2="219.65" stroke="#111" stroke-width="1.5" stroke-dasharray="2.6 2.55"/>
<line x1="197.69" y1="207.9" x2="206.89" y2="207.9" stroke="#111" stroke-width="1.5"/>
<line x1="197.69" y1="239.9" x2="206.89" y2="239.9" stroke="#111" stroke-width="1.5"/>
<rect x="194.29" y="211.8" width="16.0" height="7.85" fill="#a4042e" stroke="#860224" stroke-width="0.4"/>
<line x1="194.29" y1="215.4" x2="210.29" y2="215.4" stroke="#0a0a0a" stroke-width="1.7"/>
<circle cx="202.29" cy="200.3" r="1.5" fill="#111"/>
<circle cx="202.29" cy="201.6" r="1.5" fill="#111"/>
<circle cx="202.29" cy="203.0" r="1.5" fill="#111"/>
<circle cx="202.29" cy="204.3" r="1.5" fill="#111"/>
<line x1="222.76" y1="207.4" x2="222.76" y2="213.60000000000002" stroke="#111" stroke-width="1.5" stroke-dasharray="2.6 2.55"/>
<line x1="222.76" y1="245.1" x2="222.76" y2="227.75" stroke="#111" stroke-width="1.5" stroke-dasharray="2.6 2.55"/>
<line x1="218.16" y1="207.4" x2="227.36" y2="207.4" stroke="#111" stroke-width="1.5"/>
<line x1="218.16" y1="245.1" x2="227.36" y2="245.1" stroke="#111" stroke-width="1.5"/>
<rect x="214.76" y="213.60000000000002" width="16.0" height="14.15" fill="#304a7e" stroke="#24385f" stroke-width="0.4"/>
<line x1="214.76" y1="220.4" x2="230.76" y2="220.4" stroke="#0a0a0a" stroke-width="1.7"/>
<line x1="243.23" y1="213.3" x2="243.23" y2="217.5" stroke="#111" stroke-width="1.5" stroke-dasharray="2.6 2.55"/>
<line x1="243.23" y1="245.3" x2="243.23" y2="228.15" stroke="#111" stroke-width="1.5" stroke-dasharray="2.6 2.55"/>
<line x1="238.63" y1="213.3" x2="247.83" y2="213.3" stroke="#111" stroke-width="1.5"/>
<line x1="238.63" y1="245.3" x2="247.83" y2="245.3" stroke="#111" stroke-width="1.5"/>
<rect x="235.23" y="217.5" width="16.0" height="10.65" fill="#6aaa44" stroke="#4f8a30" stroke-width="0.4"/>
<line x1="235.23" y1="222.9" x2="251.23" y2="222.9" stroke="#0a0a0a" stroke-width="1.7"/>
<text x="59.30" y="303.68" font-size="5.5" text-anchor="middle" font-weight="normal" fill="#111" stroke="#111" stroke-width="0.2">IL2RG/</text>
<text x="59.30" y="309.88" font-size="5.5" text-anchor="middle" font-weight="normal" fill="#111" stroke="#111" stroke-width="0.2">JAK3/</text>
<text x="59.30" y="316.28" font-size="5.5" text-anchor="middle" font-weight="normal" fill="#111" stroke="#111" stroke-width="0.2">IL7R</text>
<text x="80.07" y="303.68" font-size="5.5" text-anchor="middle" font-weight="normal" fill="#111" stroke="#111" stroke-width="0.2">RAG/</text>
<text x="80.07" y="309.88" font-size="5.5" text-anchor="middle" font-weight="normal" fill="#111" stroke="#111" stroke-width="0.2">Artemis</text>
<text x="103.04" y="303.68" font-size="5.5" text-anchor="middle" font-weight="normal" fill="#111" stroke="#111" stroke-width="0.2">Other/</text>
<text x="103.04" y="309.88" font-size="5.5" text-anchor="middle" font-weight="normal" fill="#111" stroke="#111" stroke-width="0.2">unknown</text>
<text x="130.94" y="303.68" font-size="5.5" text-anchor="middle" font-weight="normal" fill="#111" stroke="#111" stroke-width="0.2">IL2RG/</text>
<text x="130.94" y="309.88" font-size="5.5" text-anchor="middle" font-weight="normal" fill="#111" stroke="#111" stroke-width="0.2">JAK3/</text>
<text x="130.94" y="316.28" font-size="5.5" text-anchor="middle" font-weight="normal" fill="#111" stroke="#111" stroke-width="0.2">IL7R</text>
<text x="151.72" y="303.68" font-size="5.5" text-anchor="middle" font-weight="normal" fill="#111" stroke="#111" stroke-width="0.2">RAG/</text>
<text x="151.72" y="309.88" font-size="5.5" text-anchor="middle" font-weight="normal" fill="#111" stroke="#111" stroke-width="0.2">Artemis</text>
<text x="174.68" y="303.68" font-size="5.5" text-anchor="middle" font-weight="normal" fill="#111" stroke="#111" stroke-width="0.2">Other/</text>
<text x="174.68" y="309.88" font-size="5.5" text-anchor="middle" font-weight="normal" fill="#111" stroke="#111" stroke-width="0.2">unknown</text>
<text x="202.59" y="303.68" font-size="5.5" text-anchor="middle" font-weight="normal" fill="#111" stroke="#111" stroke-width="0.2">IL2RG/</text>
<text x="202.59" y="309.88" font-size="5.5" text-anchor="middle" font-weight="normal" fill="#111" stroke="#111" stroke-width="0.2">JAK3/</text>
<text x="202.59" y="316.28" font-size="5.5" text-anchor="middle" font-weight="normal" fill="#111" stroke="#111" stroke-width="0.2">IL7R</text>
<text x="223.36" y="303.68" font-size="5.5" text-anchor="middle" font-weight="normal" fill="#111" stroke="#111" stroke-width="0.2">RAG/</text>
<text x="223.36" y="309.88" font-size="5.5" text-anchor="middle" font-weight="normal" fill="#111" stroke="#111" stroke-width="0.2">Artemis</text>
<text x="246.33" y="303.68" font-size="5.5" text-anchor="middle" font-weight="normal" fill="#111" stroke="#111" stroke-width="0.2">Other/</text>
<text x="246.33" y="309.88" font-size="5.5" text-anchor="middle" font-weight="normal" fill="#111" stroke="#111" stroke-width="0.2">unknown</text>
<text x="79.47" y="326.34" font-size="6.5" text-anchor="middle" font-weight="normal" fill="#111" stroke="#111" stroke-width="0.28">100 Days</text>
<text x="151.12" y="326.34" font-size="6.5" text-anchor="middle" font-weight="normal" fill="#111" stroke="#111" stroke-width="0.28">180 Days</text>
<text x="222.76" y="326.34" font-size="6.5" text-anchor="middle" font-weight="normal" fill="#111" stroke="#111" stroke-width="0.28">365 Days</text>
<text x="263.60" y="184.40" font-size="11.3" text-anchor="start" font-weight="bold" fill="#000" stroke="#000" stroke-width="0.1">D</text>
<line x1="301.62" y1="189.9" x2="301.62" y2="295.8" stroke="#111" stroke-width="1.55"/>
<line x1="298.62" y1="292.6" x2="301.62" y2="292.6" stroke="#1a1a1a" stroke-width="1.2"/>
<text x="295.72" y="294.31" font-size="5.4" text-anchor="end" font-weight="normal" fill="#262626" stroke="#262626" stroke-width="0.06" transform="translate(0 35.317) scale(1 0.88)">0</text>
<line x1="298.62" y1="272.78" x2="301.62" y2="272.78" stroke="#1a1a1a" stroke-width="1.2"/>
<text x="295.72" y="274.49" font-size="5.4" text-anchor="end" font-weight="normal" fill="#262626" stroke="#262626" stroke-width="0.06" transform="translate(0 32.939) scale(1 0.88)">20</text>
<line x1="298.62" y1="252.96" x2="301.62" y2="252.96" stroke="#1a1a1a" stroke-width="1.2"/>
<text x="295.72" y="254.67" font-size="5.4" text-anchor="end" font-weight="normal" fill="#262626" stroke="#262626" stroke-width="0.06" transform="translate(0 30.560) scale(1 0.88)">40</text>
<line x1="298.62" y1="233.14" x2="301.62" y2="233.14" stroke="#1a1a1a" stroke-width="1.2"/>
<text x="295.72" y="234.85" font-size="5.4" text-anchor="end" font-weight="normal" fill="#262626" stroke="#262626" stroke-width="0.06" transform="translate(0 28.182) scale(1 0.88)">60</text>
<line x1="298.62" y1="213.32" x2="301.62" y2="213.32" stroke="#1a1a1a" stroke-width="1.2"/>
<text x="295.72" y="215.03" font-size="5.4" text-anchor="end" font-weight="normal" fill="#262626" stroke="#262626" stroke-width="0.06" transform="translate(0 25.804) scale(1 0.88)">80</text>
<line x1="298.62" y1="193.5" x2="301.62" y2="193.5" stroke="#1a1a1a" stroke-width="1.2"/>
<text x="295.72" y="195.21" font-size="5.4" text-anchor="end" font-weight="normal" fill="#262626" stroke="#262626" stroke-width="0.06" transform="translate(0 23.425) scale(1 0.88)">100</text>
<text x="281.30" y="242.70" font-size="6.7" text-anchor="middle" font-weight="normal" fill="#333" stroke="#333" stroke-width="0.05" transform="rotate(-90 281.3 242.7)">CD445RA(%)</text>
<line x1="317.40" y1="222.5" x2="317.40" y2="262.1" stroke="#111" stroke-width="1.5" stroke-dasharray="2.6 2.55"/>
<line x1="317.40" y1="292.3" x2="317.40" y2="291.75" stroke="#111" stroke-width="1.5" stroke-dasharray="2.6 2.55"/>
<line x1="312.80" y1="222.5" x2="322.00" y2="222.5" stroke="#111" stroke-width="1.5"/>
<line x1="312.80" y1="292.3" x2="322.00" y2="292.3" stroke="#111" stroke-width="1.5"/>
<rect x="309.40" y="262.1" width="16.0" height="29.65" fill="#a4042e" stroke="#860224" stroke-width="0.4"/>
<line x1="309.40" y1="275.2" x2="325.40" y2="275.2" stroke="#0a0a0a" stroke-width="1.7"/>
<circle cx="317.40" cy="202.9" r="1.5" fill="#111"/>
<circle cx="317.40" cy="210.1" r="1.5" fill="#111"/>
<circle cx="317.40" cy="212.5" r="1.5" fill="#111"/>
<line x1="337.87" y1="255.9" x2="337.87" y2="277.0" stroke="#111" stroke-width="1.5" stroke-dasharray="2.6 2.55"/>
<line x1="337.87" y1="292.3" x2="337.87" y2="290.25" stroke="#111" stroke-width="1.5" stroke-dasharray="2.6 2.55"/>
<line x1="333.27" y1="255.9" x2="342.47" y2="255.9" stroke="#111" stroke-width="1.5"/>
<line x1="333.27" y1="292.3" x2="342.47" y2="292.3" stroke="#111" stroke-width="1.5"/>
<rect x="329.87" y="277.0" width="16.0" height="13.25" fill="#304a7e" stroke="#24385f" stroke-width="0.4"/>
<line x1="329.87" y1="288.6" x2="345.87" y2="288.6" stroke="#0a0a0a" stroke-width="1.7"/>
<line x1="358.34" y1="273.1" x2="358.34" y2="276.1" stroke="#111" stroke-width="1.5" stroke-dasharray="2.6 2.55"/>
<line x1="358.34" y1="292.3" x2="358.34" y2="288.45" stroke="#111" stroke-width="1.5" stroke-dasharray="2.6 2.55"/>
<line x1="353.74" y1="273.1" x2="362.94" y2="273.1" stroke="#111" stroke-width="1.5"/>
<line x1="353.74" y1="292.3" x2="362.94" y2="292.3" stroke="#111" stroke-width="1.5"/>
<rect x="350.34" y="276.1" width="16.0" height="12.35" fill="#6aaa44" stroke="#4f8a30" stroke-width="0.4"/>
<line x1="350.34" y1="282.40000000000003" x2="366.34" y2="282.40000000000003" stroke="#0a0a0a" stroke-width="1.7"/>
<circle cx="358.34" cy="252.3" r="1.5" fill="#111"/>
<line x1="389.04" y1="192.9" x2="389.04" y2="228.3" stroke="#111" stroke-width="1.5" stroke-dasharray="2.6 2.55"/>
<line x1="389.04" y1="292.5" x2="389.04" y2="278.15" stroke="#111" stroke-width="1.5" stroke-dasharray="2.6 2.55"/>
<line x1="384.44" y1="192.9" x2="393.64" y2="192.9" stroke="#111" stroke-width="1.5"/>
<line x1="384.44" y1="292.5" x2="393.64" y2="292.5" stroke="#111" stroke-width="1.5"/>
<rect x="381.04" y="228.3" width="16.0" height="49.85" fill="#a4042e" stroke="#860224" stroke-width="0.4"/>
<line x1="381.04" y1="255.9" x2="397.04" y2="255.9" stroke="#0a0a0a" stroke-width="1.7"/>
<line x1="409.51" y1="227.3" x2="409.51" y2="254.10000000000002" stroke="#111" stroke-width="1.5" stroke-dasharray="2.6 2.55"/>
<line x1="409.51" y1="292.5" x2="409.51" y2="289.34999999999997" stroke="#111" stroke-width="1.5" stroke-dasharray="2.6 2.55"/>
<line x1="404.91" y1="227.3" x2="414.12" y2="227.3" stroke="#111" stroke-width="1.5"/>
<line x1="404.91" y1="292.5" x2="414.12" y2="292.5" stroke="#111" stroke-width="1.5"/>
<rect x="401.51" y="254.10000000000002" width="16.0" height="35.25" fill="#304a7e" stroke="#24385f" stroke-width="0.4"/>
<line x1="401.51" y1="260.8" x2="417.51" y2="260.8" stroke="#0a0a0a" stroke-width="1.7"/>
<line x1="429.98" y1="231.6" x2="429.98" y2="254.4" stroke="#111" stroke-width="1.5" stroke-dasharray="2.6 2.55"/>
<line x1="429.98" y1="291.6" x2="429.98" y2="268.45" stroke="#111" stroke-width="1.5" stroke-dasharray="2.6 2.55"/>
<line x1="425.38" y1="231.6" x2="434.58" y2="231.6" stroke="#111" stroke-width="1.5"/>
<line x1="425.38" y1="291.6" x2="434.58" y2="291.6" stroke="#111" stroke-width="1.5"/>
<rect x="421.98" y="254.4" width="16.0" height="14.05" fill="#6aaa44" stroke="#4f8a30" stroke-width="0.4"/>
<line x1="421.98" y1="255.3" x2="437.98" y2="255.3" stroke="#0a0a0a" stroke-width="1.7"/>
<line x1="460.69" y1="199.3" x2="460.69" y2="216.4" stroke="#111" stroke-width="1.5" stroke-dasharray="2.6 2.55"/>
<line x1="460.69" y1="292.5" x2="460.69" y2="259.54999999999995" stroke="#111" stroke-width="1.5" stroke-dasharray="2.6 2.55"/>
<line x1="456.09" y1="199.3" x2="465.29" y2="199.3" stroke="#111" stroke-width="1.5"/>
<line x1="456.09" y1="292.5" x2="465.29" y2="292.5" stroke="#111" stroke-width="1.5"/>
<rect x="452.69" y="216.4" width="16.0" height="43.15" fill="#a4042e" stroke="#860224" stroke-width="0.4"/>
<line x1="452.69" y1="247.5" x2="468.69" y2="247.5" stroke="#0a0a0a" stroke-width="1.7"/>
<line x1="481.16" y1="216.1" x2="481.16" y2="232.4" stroke="#111" stroke-width="1.5" stroke-dasharray="2.6 2.55"/>
<line x1="481.16" y1="287.4" x2="481.16" y2="276.84999999999997" stroke="#111" stroke-width="1.5" stroke-dasharray="2.6 2.55"/>
<line x1="476.56" y1="216.1" x2="485.76" y2="216.1" stroke="#111" stroke-width="1.5"/>
<line x1="476.56" y1="287.4" x2="485.76" y2="287.4" stroke="#111" stroke-width="1.5"/>
<rect x="473.16" y="232.4" width="16.0" height="44.45" fill="#304a7e" stroke="#24385f" stroke-width="0.4"/>
<line x1="473.16" y1="249.3" x2="489.16" y2="249.3" stroke="#0a0a0a" stroke-width="1.7"/>
<line x1="501.63" y1="219.6" x2="501.63" y2="246.4" stroke="#111" stroke-width="1.5" stroke-dasharray="2.6 2.55"/>
<line x1="501.63" y1="291.4" x2="501.63" y2="282.75" stroke="#111" stroke-width="1.5" stroke-dasharray="2.6 2.55"/>
<line x1="497.03" y1="219.6" x2="506.23" y2="219.6" stroke="#111" stroke-width="1.5"/>
<line x1="497.03" y1="291.4" x2="506.23" y2="291.4" stroke="#111" stroke-width="1.5"/>
<rect x="493.63" y="246.4" width="16.0" height="36.35" fill="#6aaa44" stroke="#4f8a30" stroke-width="0.4"/>
<line x1="493.63" y1="276.6" x2="509.63" y2="276.6" stroke="#0a0a0a" stroke-width="1.7"/>
<text x="317.70" y="303.68" font-size="5.5" text-anchor="middle" font-weight="normal" fill="#111" stroke="#111" stroke-width="0.2">IL2RG/</text>
<text x="317.70" y="309.88" font-size="5.5" text-anchor="middle" font-weight="normal" fill="#111" stroke="#111" stroke-width="0.2">JAK3/</text>
<text x="317.70" y="316.28" font-size="5.5" text-anchor="middle" font-weight="normal" fill="#111" stroke="#111" stroke-width="0.2">IL7R</text>
<text x="338.47" y="303.68" font-size="5.5" text-anchor="middle" font-weight="normal" fill="#111" stroke="#111" stroke-width="0.2">RAG/</text>
<text x="338.47" y="309.88" font-size="5.5" text-anchor="middle" font-weight="normal" fill="#111" stroke="#111" stroke-width="0.2">Artemis</text>
<text x="361.44" y="303.68" font-size="5.5" text-anchor="middle" font-weight="normal" fill="#111" stroke="#111" stroke-width="0.2">Other/</text>
<text x="361.44" y="309.88" font-size="5.5" text-anchor="middle" font-weight="normal" fill="#111" stroke="#111" stroke-width="0.2">unknown</text>
<text x="389.34" y="303.68" font-size="5.5" text-anchor="middle" font-weight="normal" fill="#111" stroke="#111" stroke-width="0.2">IL2RG/</text>
<text x="389.34" y="309.88" font-size="5.5" text-anchor="middle" font-weight="normal" fill="#111" stroke="#111" stroke-width="0.2">JAK3/</text>
<text x="389.34" y="316.28" font-size="5.5" text-anchor="middle" font-weight="normal" fill="#111" stroke="#111" stroke-width="0.2">IL7R</text>
<text x="410.12" y="303.68" font-size="5.5" text-anchor="middle" font-weight="normal" fill="#111" stroke="#111" stroke-width="0.2">RAG/</text>
<text x="410.12" y="309.88" font-size="5.5" text-anchor="middle" font-weight="normal" fill="#111" stroke="#111" stroke-width="0.2">Artemis</text>
<text x="433.08" y="303.68" font-size="5.5" text-anchor="middle" font-weight="normal" fill="#111" stroke="#111" stroke-width="0.2">Other/</text>
<text x="433.08" y="309.88" font-size="5.5" text-anchor="middle" font-weight="normal" fill="#111" stroke="#111" stroke-width="0.2">unknown</text>
<text x="460.99" y="303.68" font-size="5.5" text-anchor="middle" font-weight="normal" fill="#111" stroke="#111" stroke-width="0.2">IL2RG/</text>
<text x="460.99" y="309.88" font-size="5.5" text-anchor="middle" font-weight="normal" fill="#111" stroke="#111" stroke-width="0.2">JAK3/</text>
<text x="460.99" y="316.28" font-size="5.5" text-anchor="middle" font-weight="normal" fill="#111" stroke="#111" stroke-width="0.2">IL7R</text>
<text x="481.76" y="303.68" font-size="5.5" text-anchor="middle" font-weight="normal" fill="#111" stroke="#111" stroke-width="0.2">RAG/</text>
<text x="481.76" y="309.88" font-size="5.5" text-anchor="middle" font-weight="normal" fill="#111" stroke="#111" stroke-width="0.2">Artemis</text>
<text x="504.73" y="303.68" font-size="5.5" text-anchor="middle" font-weight="normal" fill="#111" stroke="#111" stroke-width="0.2">Other/</text>
<text x="504.73" y="309.88" font-size="5.5" text-anchor="middle" font-weight="normal" fill="#111" stroke="#111" stroke-width="0.2">unknown</text>
<text x="337.87" y="326.34" font-size="6.5" text-anchor="middle" font-weight="normal" fill="#111" stroke="#111" stroke-width="0.28">100 Days</text>
<text x="409.51" y="326.34" font-size="6.5" text-anchor="middle" font-weight="normal" fill="#111" stroke="#111" stroke-width="0.28">180 Days</text>
<text x="481.16" y="326.34" font-size="6.5" text-anchor="middle" font-weight="normal" fill="#111" stroke="#111" stroke-width="0.28">365 Days</text>
</g>
<rect x="0" y="0" width="520" height="1.45" fill="#000"/>
<rect x="0" y="0" width="1.45" height="335" fill="#000"/>
<rect x="518.67" y="0" width="1.33" height="335" fill="#000"/>
<rect x="0" y="333.6" width="520" height="1.4" fill="#000"/>
</svg>
</body></html>
